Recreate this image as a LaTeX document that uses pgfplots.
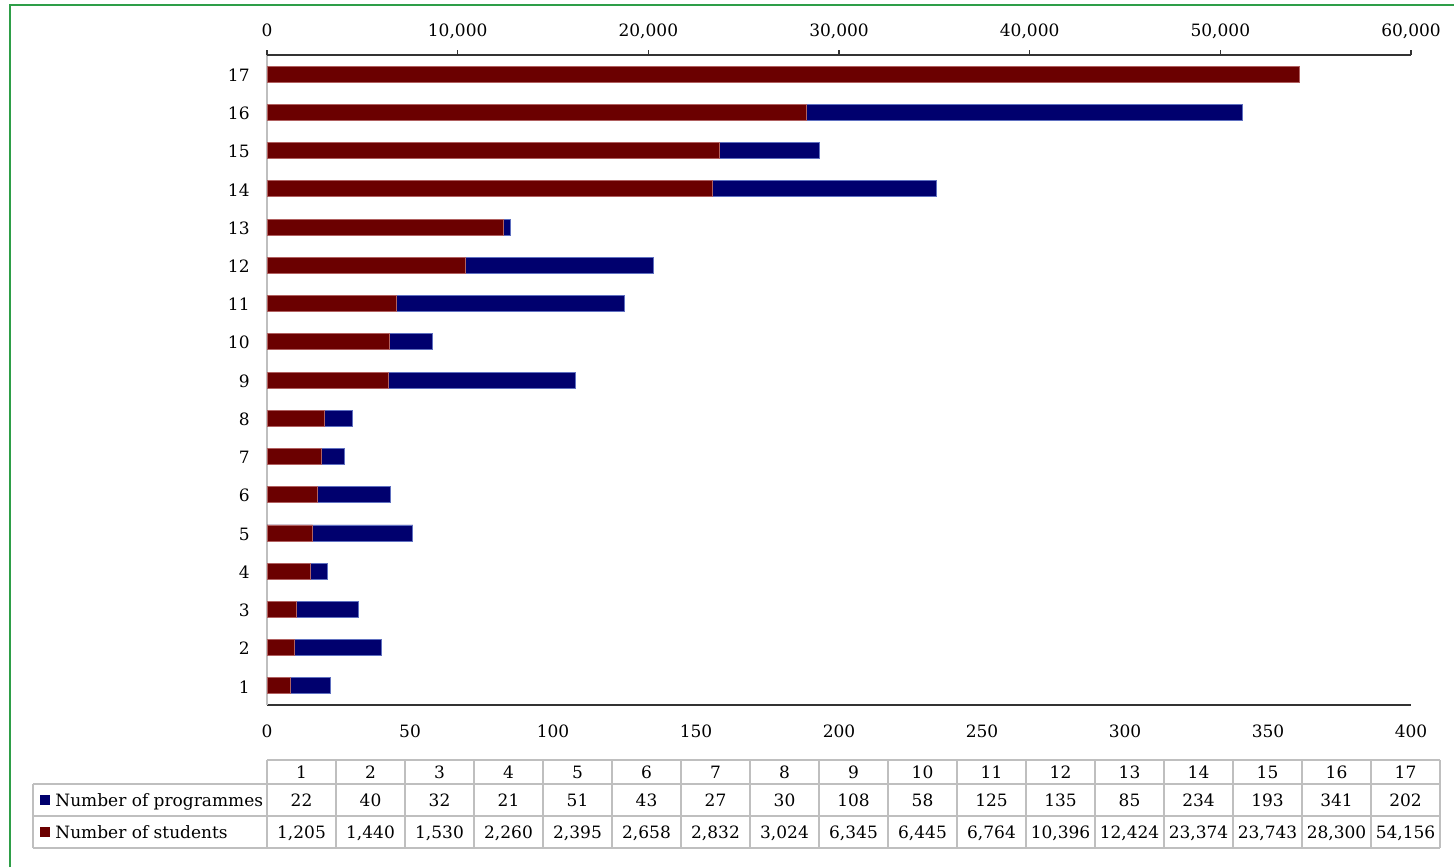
\documentclass[border=0pt]{standalone}
\usepackage{fontspec}
\setmainfont{DejaVu Serif}
\usepackage{pgfplots}
\pgfplotsset{compat=1.18}
\usepackage{pgfplotstable}
\definecolor{barred}{HTML}{6B0000}
\definecolor{barblue}{HTML}{00006E}
\definecolor{rededge}{HTML}{B06060}
\definecolor{blueedge}{HTML}{6070C0}
\definecolor{gridgray}{HTML}{BFBFBF}
\definecolor{framegreen}{HTML}{2E9E48}

\pgfplotstableread{
cat prog stud
1 22 1205
2 40 1440
3 32 1530
4 21 2260
5 51 2395
6 43 2658
7 27 2832
8 30 3024
9 108 6345
10 58 6445
11 125 6764
12 135 10396
13 85 12424
14 234 23374
15 193 23743
16 341 28300
17 202 54156
}\datatable

\begin{document}
\fontsize{8.5pt}{10pt}\selectfont
\begin{tikzpicture}
\path[use as bounding box] (0,0) rectangle (727pt,-433.5pt);

% programmes axis (bottom)
\begin{axis}[
  at={(133.5pt,-352.5pt)}, anchor=south west,
  scale only axis, width=572pt, height=325pt,
  xmin=0, xmax=400, ymin=0.5, ymax=17.5,
  axis x line*=bottom, axis y line*=left,
  x axis line style={black!80, line width=0.7pt, -},
  y axis line style={gridgray, line width=0.7pt, -},
  xtick={0,50,...,400}, ytick={1,...,17},
  major tick length=0pt,
  /pgf/number format/assume math mode=true,
  xticklabel style={anchor=base, yshift=-16.25pt, inner sep=0pt},
  yticklabel style={anchor=east, inner sep=0pt, xshift=-8.5pt, yshift=-0.5pt},
  xbar, bar width=8pt, bar shift=0pt,
  clip=false,
]
\addplot[fill=barblue, draw=blueedge, line width=0.4pt] table[x=prog, y=cat] {\datatable};
\end{axis}

% students axis (top)
\begin{axis}[
  at={(133.5pt,-352.5pt)}, anchor=south west,
  scale only axis, width=572pt, height=325pt,
  xmin=0, xmax=60000, ymin=0.5, ymax=17.5,
  axis x line*=top, axis y line=none,
  x axis line style={black!80, line width=0.7pt, -},
  xtick={0,10000,...,60000}, scaled x ticks=false,
  tick align=outside, major tick length=2.5pt,
  tick style={black!80, line width=0.7pt},
  /pgf/number format/.cd, 1000 sep={,}, assume math mode=true, /pgfplots/.cd,
  xticklabel style={anchor=base, yshift=6.75pt, inner sep=0pt},
  xbar, bar width=8pt, bar shift=0pt,
  clip=false,
]
\addplot[fill=barred, draw=rededge, line width=0.4pt] table[x=stud, y=cat] {\datatable};
\end{axis}

\begin{scope}[x=0.5pt, y=-0.5pt]
  % frame
  \draw[framegreen, line width=0.6pt] (10,867) -- (10,5) -- (1454,5);
  % table grid
  \draw[gridgray, line width=1pt] (267,760) -- (1440,760);
  \foreach \yy in {784,816,848} \draw[gridgray, line width=1pt] (33,\yy) -- (1440,\yy);
  \draw[gridgray, line width=1pt] (33,784) -- (33,848);
  \foreach \k in {0,...,17} \draw[gridgray, line width=1pt] ({267+69*\k},760) -- ({267+69*\k},848);
  % legend keys
  \fill[barblue] (40,795) rectangle (50,805);
  \fill[barred] (40,827) rectangle (50,837);
  \node[anchor=base west, inner sep=0pt] at (55,806) {Number of programmes};
  \node[anchor=base west, inner sep=0pt] at (55,838) {Number of students};
  % table values
  \pgfplotstablegetrowsof{\datatable}
  \pgfmathtruncatemacro{\nrows}{\pgfplotsretval-1}
  \foreach \r in {0,...,\nrows}{
    \pgfplotstablegetelem{\r}{cat}\of{\datatable}\let\vc\pgfplotsretval
    \pgfplotstablegetelem{\r}{prog}\of{\datatable}\let\vp\pgfplotsretval
    \pgfplotstablegetelem{\r}{stud}\of{\datatable}\let\vs\pgfplotsretval
    \pgfmathsetmacro{\cx}{267+69*(\r+0.5)}
    \node[anchor=base, inner sep=0pt] at (\cx,778) {\vc};
    \node[anchor=base, inner sep=0pt] at (\cx,806) {\vp};
    \node[anchor=base, inner sep=0pt] at (\cx,838) {\pgfmathprintnumber[1000 sep={,}, assume math mode=true]{\vs}};
  }
\end{scope}
\end{tikzpicture}
\end{document}
